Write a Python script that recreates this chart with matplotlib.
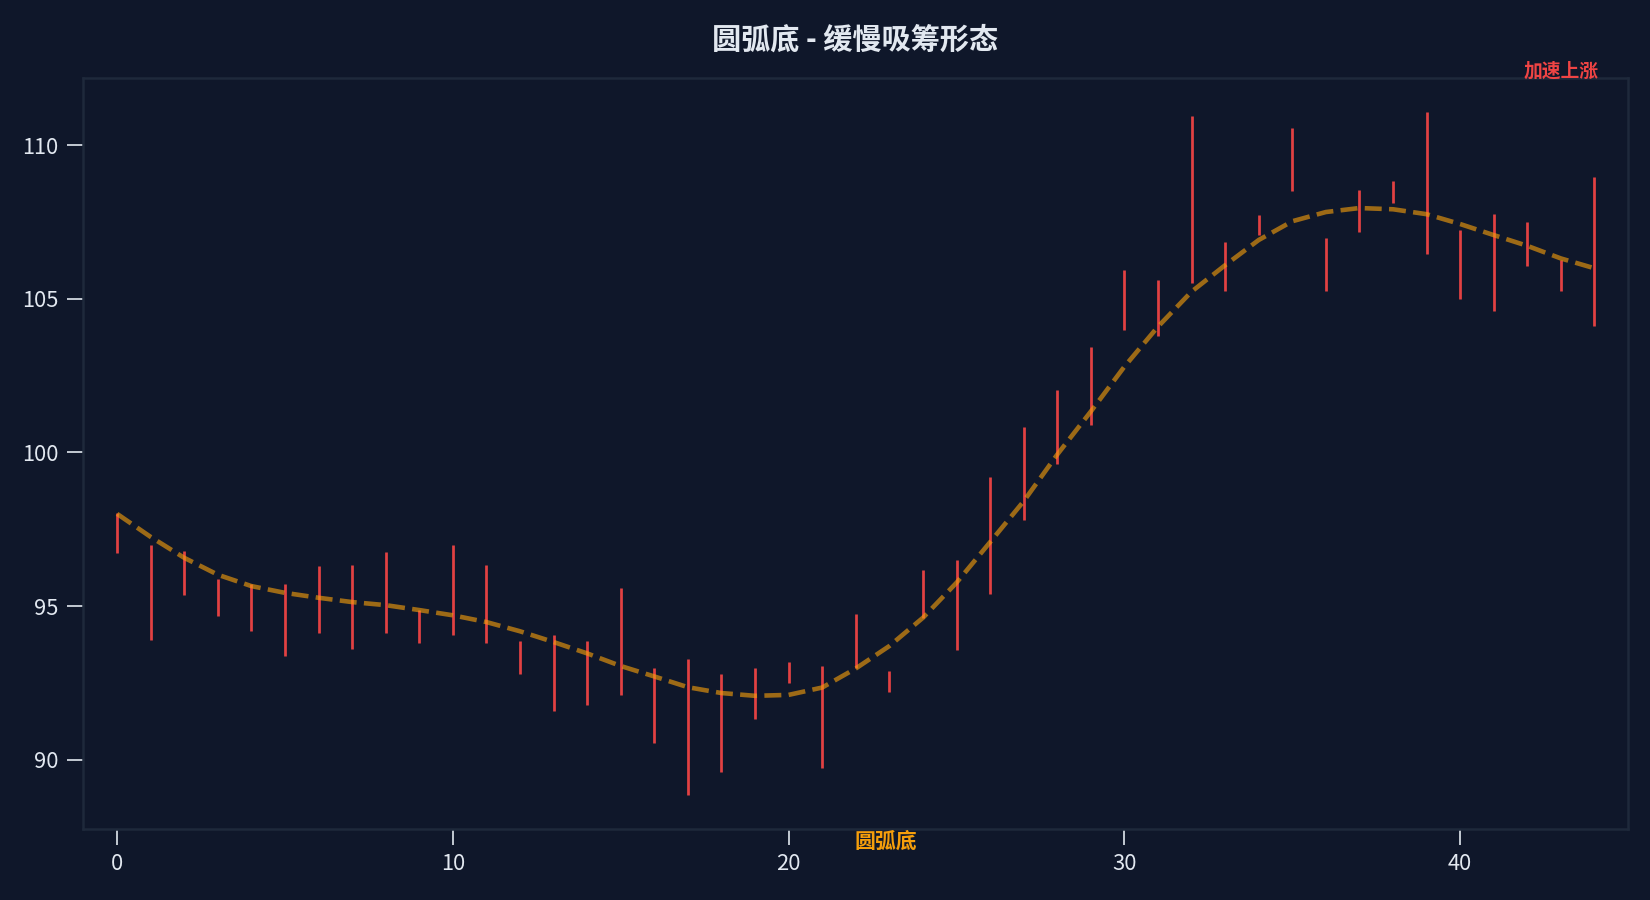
import numpy as np
import matplotlib.pyplot as plt

# daily high / low for each bar (index 0..44)
days = list(range(45))
highs = [
    98.03, 96.99, 96.80, 95.89, 95.73, 95.73, 96.31, 96.34, 96.77, 94.86,
    96.98, 96.34, 93.86, 94.07, 93.86, 95.60, 92.99, 93.28, 92.80, 93.00,
    93.19, 93.06, 94.75, 92.90, 96.18, 96.51, 99.20, 100.82, 102.02, 103.42,
    105.92, 105.60, 110.95, 106.83, 107.71, 110.56, 106.99, 108.55, 108.84, 111.08,
    107.22, 107.74, 107.48, 106.25, 108.97,
]
lows = [
    96.73, 93.91, 95.36, 94.68, 94.20, 93.39, 94.14, 93.60, 94.14, 93.81,
    94.07, 93.81, 92.80, 91.60, 91.77, 92.12, 90.56, 88.85, 89.59, 91.31,
    92.51, 89.72, 93.00, 92.22, 94.60, 93.58, 95.40, 97.79, 99.62, 100.89,
    103.97, 103.78, 105.52, 105.24, 107.06, 108.52, 105.24, 107.16, 108.13, 106.47,
    104.98, 104.59, 106.05, 105.24, 104.10,
]
# rounded-bottom trend curve
trend = [
    98.00, 97.25, 96.57, 96.02, 95.65, 95.43, 95.27, 95.13, 95.03, 94.87,
    94.70, 94.48, 94.18, 93.83, 93.46, 93.05, 92.71, 92.36, 92.17, 92.08,
    92.11, 92.35, 92.97, 93.70, 94.62, 95.76, 97.08, 98.41, 99.93, 101.33,
    102.79, 104.09, 105.23, 106.09, 106.91, 107.52, 107.82, 107.95, 107.91, 107.75,
    107.43, 107.07, 106.72, 106.31, 105.99,
]

BG = "#0f172a"
RED = "#ef4444"
ORANGE = "#f59e0b"
TEXT = "#e2e8f0"


def plot_chart():
    plt.rcParams["font.family"] = ["Noto Sans CJK SC", "DejaVu Sans"]

    fig = plt.figure(figsize=(11, 6), dpi=150, facecolor=BG)
    ax = fig.add_axes([0.05, 0.0786, 0.9367, 0.8351])
    ax.set_facecolor(BG)

    ax.vlines(np.array(days), lows, highs, color=RED, linewidth=1.3, alpha=0.95)
    ax.plot(days, trend, color=ORANGE, linestyle="--", linewidth=2.2, alpha=0.62)

    ax.text(43, 112.4, "加速上涨", color=RED, fontsize=9, fontweight="bold",
            ha="center", va="center", clip_on=False)
    ax.text(22.9, 87.36, "圆弧底", color=ORANGE, fontsize=10, fontweight="bold",
            ha="center", va="center", clip_on=False)

    ax.set_xlim(-1.03, 45)
    ax.set_title("圆弧底 - 缓慢吸筹形态", color=TEXT, fontsize=14,
                 fontweight="bold", pad=14)

    for spine in ax.spines.values():
        spine.set_color("#1e293b")
        spine.set_linewidth(1.2)
    ax.tick_params(colors=TEXT, labelsize=10.5, length=7.5, width=0.8, pad=4)

    fig.savefig("out.png", facecolor=BG)


def main():
    plot_chart()


if __name__ == "__main__":
    main()
